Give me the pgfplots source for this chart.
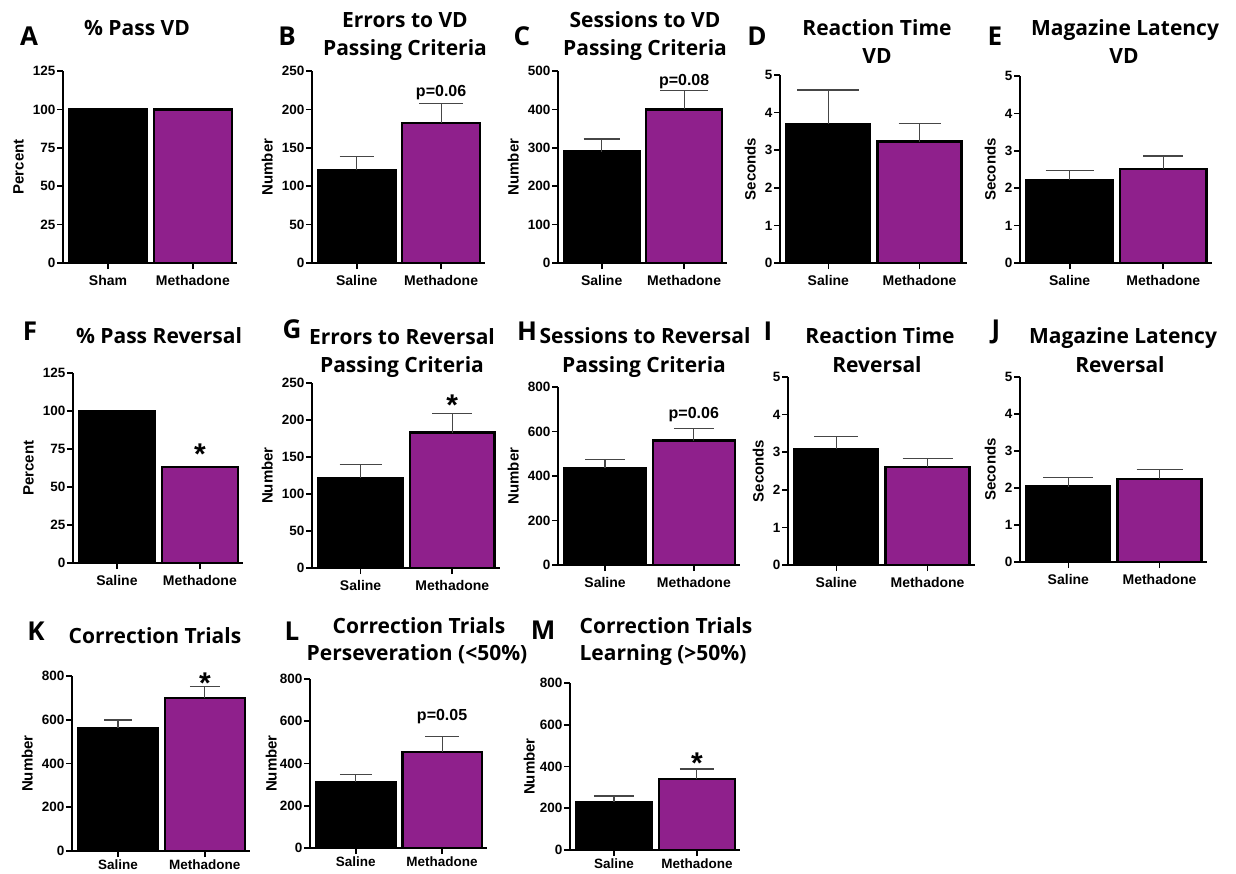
\documentclass[border=0pt]{standalone}
\usepackage{pgfplots}
\pgfplotsset{compat=1.18}
\usepackage{fontspec}
\setmainfont{Liberation Sans}
\newfontfamily\tfont{Open Sans}
\definecolor{mpurple}{RGB}{143,32,140}
\definecolor{errc}{RGB}{70,70,70}
\pgfplotsset{
 panel/.style={scale only axis, anchor=south west, xmin=0.47, xmax=2.52, ymin=0, enlargelimits=false, clip=false,
   axis x line*=bottom, axis y line*=left, axis line style={-, line width=1.7pt, black},
   tick align=outside, major tick length=6pt, major tick style={line width=1.7pt, black}, minor tick num=0,
   xtick={1,2}, xticklabels={Saline,Methadone},
   /pgf/number format/assume math mode=true,
   yticklabel style={font=\bfseries\fontsize{13.5}{14}\selectfont, inner sep=1.5pt},
   xticklabel style={font=\bfseries\fontsize{14}{15}\selectfont, yshift=-3pt},
   ylabel style={font=\bfseries\fontsize{15}{16}\selectfont},
   ylabel shift=4pt,
 },
 lastrow/.style={xticklabel style={yshift=3.5pt, font=\bfseries\fontsize{13.5}{14}\selectfont}},
 sal/.style={ybar, bar shift=0pt, bar width=0.92, fill=black, draw=black, line width=2.3pt},
 meth/.style={ybar, bar shift=0pt, bar width=0.92, fill=mpurple, draw=black, line width=2.3pt},
 err/.style={error bars/y dir=plus, error bars/y explicit, error bars/error mark=|,
   error bars/error bar style={line width=1.2pt, errc, solid},
   error bars/error mark options={line width=1.2pt, errc, mark size=#1}},
}
\tikzset{
 ttl/.style={font=\tfont\bfseries\fontsize{21}{25}\selectfont, anchor=base, inner sep=0pt},
 lett/.style={font=\tfont\bfseries\fontsize{26}{30}\selectfont, anchor=base, inner sep=0pt},
 pval/.style={font=\bfseries\fontsize{16}{18}\selectfont, anchor=base, inner sep=0pt},
 star/.style={font=\bfseries\fontsize{30}{30}\selectfont, anchor=base, inner sep=0pt, yshift=-17.4pt},
}
\begin{document}
\begin{tikzpicture}
\path[use as bounding box] (0,0) rectangle (1236pt,-873pt);
% ---------- titles and letters ----------
\node[lett] at (29pt,-45pt) {A};
\node[ttl] at (137pt,-35pt) {\% Pass VD};
\node[lett] at (287pt,-45pt) {B};
\node[ttl] at (405pt,-27pt) {Errors to VD};
\node[ttl] at (405pt,-55pt) {Passing Criteria};
\node[lett] at (522pt,-45pt) {C};
\node[ttl] at (645pt,-27pt) {Sessions to VD};
\node[ttl] at (645pt,-55pt) {Passing Criteria};
\node[lett] at (757pt,-45pt) {D};
\node[ttl] at (877pt,-35pt) {Reaction Time};
\node[ttl] at (877pt,-63pt) {VD};
\node[lett] at (995pt,-45pt) {E};
\node[ttl] at (1125pt,-35pt) {Magazine Latency};
\node[ttl] at (1124pt,-63pt) {VD};
\node[lett] at (30pt,-340pt) {F};
\node[ttl] at (159pt,-343pt) {\% Pass Reversal};
\node[lett] at (292pt,-338pt) {G};
\node[ttl] at (402pt,-344pt) {Errors to Reversal};
\node[ttl] at (402pt,-372pt) {Passing Criteria};
\node[lett] at (527pt,-340pt) {H};
\node[ttl] at (645pt,-343pt) {Sessions to Reversal};
\node[ttl] at (644pt,-372pt) {Passing Criteria};
\node[lett] at (768pt,-340pt) {I};
\node[ttl] at (880pt,-343pt) {Reaction Time};
\node[ttl] at (877pt,-372pt) {Reversal};
\node[lett] at (996pt,-338pt) {J};
\node[ttl] at (1123pt,-343pt) {Magazine Latency};
\node[ttl] at (1120pt,-372pt) {Reversal};
\node[lett] at (36pt,-640pt) {K};
\node[ttl] at (155pt,-643pt) {Correction Trials};
\node[lett] at (292pt,-640pt) {L};
\node[ttl] at (419pt,-633pt) {Correction Trials};
\node[ttl] at (417pt,-660pt) {Perseveration (<50\%)};
\node[lett] at (543pt,-639pt) {M};
\node[ttl] at (666pt,-633pt) {Correction Trials};
\node[ttl] at (663pt,-660pt) {Learning (>50\%)};
% ---------- A ----------
\begin{axis}[panel, at={(63pt,-263pt)}, width=174pt, height=192pt, ymax=125, ytick={0,25,50,75,100,125},
  xticklabels={Sham,Methadone}, ylabel={Percent}]
\addplot[sal] coordinates {(1,100)};
\addplot[meth] coordinates {(2,100)};
\end{axis}
% ---------- B ----------
\begin{axis}[panel, at={(312pt,-263pt)}, width=173pt, height=192pt, ymax=250, ytick={0,50,100,150,200,250}, ylabel={Number}]
\addplot[sal, err=17pt] coordinates {(1,121) +- (0,18)};
\addplot[meth, err=22pt] coordinates {(2,182) +- (0,26)};
\node[pval] at (axis cs:2,216.5) {p=0.06};
\end{axis}
% ---------- C ----------
\begin{axis}[panel, at={(558pt,-263pt)}, width=169pt, height=192pt, ymax=500, ytick={0,100,200,300,400,500}, ylabel={Number}]
\addplot[sal, err=18pt] coordinates {(1,290) +- (0,33)};
\addplot[meth, err=24pt] coordinates {(2,400) +- (0,50)};
\node[pval] at (axis cs:2,463.5) {p=0.08};
\end{axis}
% ---------- D ----------
\begin{axis}[panel, at={(780pt,-263pt)}, width=187pt, height=188pt, ymax=5, ytick={0,1,2,3,4,5}, ylabel={Seconds}]
\addplot[sal, err=31pt] coordinates {(1,3.70) +- (0,0.90)};
\addplot[meth, err=21pt] coordinates {(2,3.23) +- (0,0.47)};
\end{axis}
% ---------- E ----------
\begin{axis}[panel, at={(1020pt,-263pt)}, width=192pt, height=187pt, ymax=5, ytick={0,1,2,3,4,5}, ylabel={Seconds}]
\addplot[sal, err=24pt] coordinates {(1,2.22) +- (0,0.25)};
\addplot[meth, err=20pt] coordinates {(2,2.51) +- (0,0.35)};
\end{axis}
% ---------- F ----------
\begin{axis}[panel, at={(73pt,-563pt)}, width=170pt, height=190pt, ymax=125, ytick={0,25,50,75,100,125}, ylabel={Percent}]
\addplot[sal] coordinates {(1,100)};
\addplot[meth] coordinates {(2,63)};
\node[star] at (axis cs:2,76.3) {*};
\end{axis}
% ---------- G ----------
\begin{axis}[panel, at={(312pt,-568pt)}, width=188pt, height=185pt, ymax=250, ytick={0,50,100,150,200,250}, ylabel={Number}]
\addplot[sal, err=21pt] coordinates {(1,122) +- (0,18)};
\addplot[meth, err=20pt] coordinates {(2,183) +- (0,26)};
\node[star] at (axis cs:2,230) {*};
\end{axis}
% ---------- H ----------
\begin{axis}[panel, at={(558pt,-565pt)}, width=182pt, height=178pt, ymax=800, ytick={0,200,400,600,800}, ylabel={Number}]
\addplot[sal, err=20pt] coordinates {(1,435) +- (0,40)};
\addplot[meth, err=20pt] coordinates {(2,559) +- (0,55)};
\node[pval] at (axis cs:2,659) {p=0.06};
\end{axis}
% ---------- I ----------
\begin{axis}[panel, at={(788pt,-565pt)}, width=187pt, height=188pt, ymax=5, ytick={0,1,2,3,4,5}, ylabel={Seconds}]
\addplot[sal, err=22pt] coordinates {(1,3.09) +- (0,0.32)};
\addplot[meth, err=25pt] coordinates {(2,2.60) +- (0,0.24)};
\end{axis}
% ---------- J ----------
\begin{axis}[panel, at={(1020pt,-562pt)}, width=187pt, height=185pt, ymax=5, ytick={0,1,2,3,4,5}, ylabel={Seconds}]
\addplot[sal, err=25pt] coordinates {(1,2.04) +- (0,0.24)};
\addplot[meth, err=23pt] coordinates {(2,2.24) +- (0,0.27)};
\end{axis}
% ---------- K ----------
\begin{axis}[panel, lastrow, at={(72pt,-851pt)}, width=178pt, height=175pt, ymax=800, ytick={0,200,400,600,800}, ylabel={Number}]
\addplot[sal, err=14pt] coordinates {(1,561) +- (0,38)};
\addplot[meth, err=15pt] coordinates {(2,698) +- (0,53)};
\node[star] at (axis cs:2,800) {*};
\end{axis}
% ---------- L ----------
\begin{axis}[panel, lastrow, at={(310pt,-848pt)}, width=177pt, height=169pt, ymax=800, ytick={0,200,400,600,800}, ylabel={Number}, ylabel shift=-2pt]
\addplot[sal, err=16pt] coordinates {(1,314) +- (0,35)};
\addplot[meth, err=17pt] coordinates {(2,456) +- (0,71)};
\node[pval] at (axis cs:2,603) {p=0.05};
\end{axis}
% ---------- M ----------
\begin{axis}[panel, lastrow, at={(570pt,-850pt)}, width=170pt, height=167pt, ymax=800, ytick={0,200,400,600,800}, ylabel={Number}, ylabel shift=0pt]
\addplot[sal, err=20pt] coordinates {(1,231) +- (0,28)};
\addplot[meth, err=17pt] coordinates {(2,340) +- (0,48)};
\node[star] at (axis cs:2,450) {*};
\end{axis}
\end{tikzpicture}
\end{document}
